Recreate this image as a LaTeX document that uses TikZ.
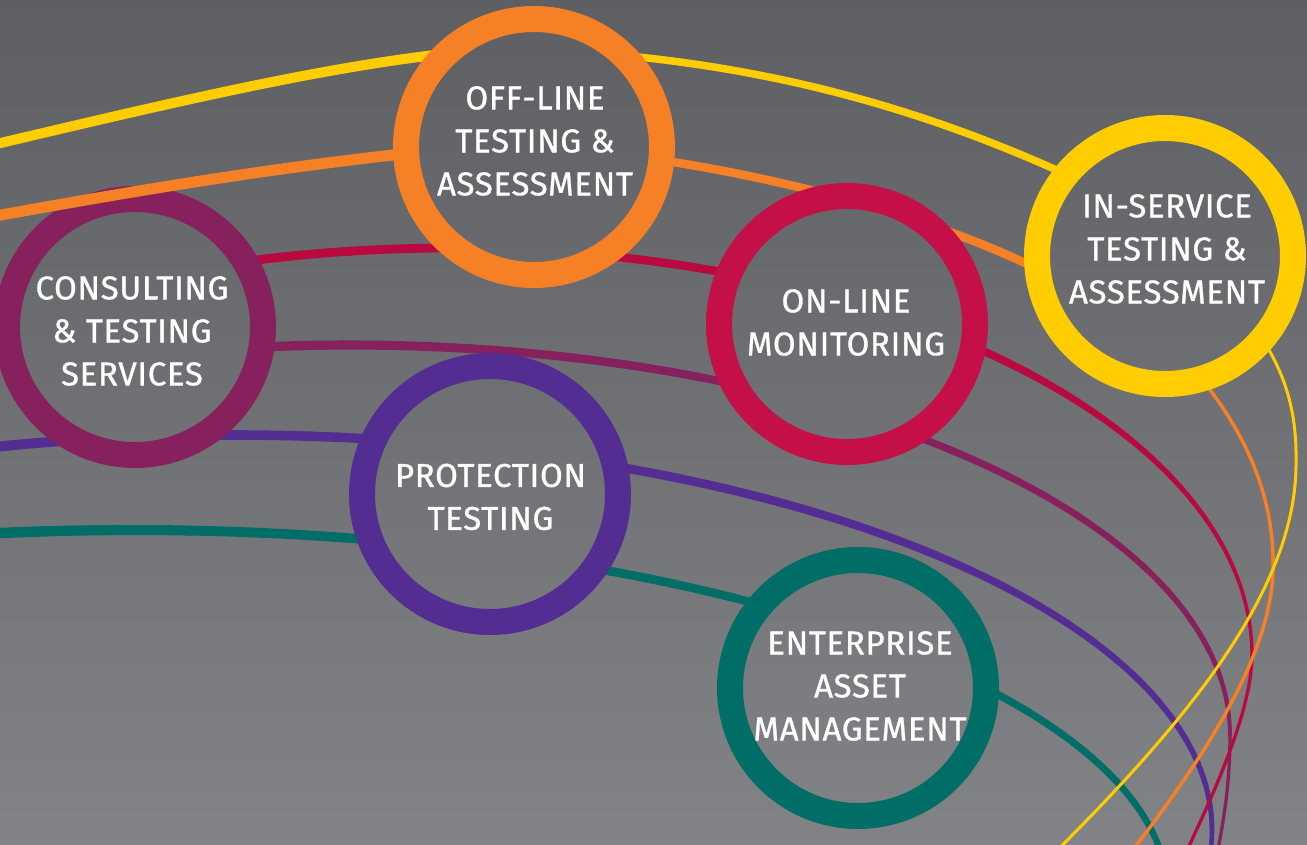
\documentclass[tikz,border=0pt]{standalone}
\usepackage{fontspec}
\setmainfont{Fira Sans}
\newfontfamily\lblfont{Fira Sans}[FakeBold=0.9, LetterSpace=2]
\definecolor{bgtop}{RGB}{94,95,99}
\definecolor{bgbot}{RGB}{130,131,134}
\definecolor{cyel}{RGB}{255,205,0}
\definecolor{corg}{RGB}{245,128,37}
\definecolor{ccrim}{RGB}{196,15,72}
\definecolor{ccrimline}{RGB}{184,10,64}
\definecolor{cmag}{RGB}{134,33,93}
\definecolor{cpur}{RGB}{83,45,145}
\definecolor{cteal}{RGB}{0,110,102}
\begin{document}
\begin{tikzpicture}[x=1pt,y=-1pt]
\tikzset{
  ringline/.style={line width=26pt},
  lbl/.style={text=white, align=center, font=\lblfont\fontsize{33}{43}\selectfont, inner sep=0pt},
  arcline/.style={line cap=round, line join=round}
}
\newcommand{\bgfill}{\shade[top color=bgtop, bottom color=bgbot] (0,0) rectangle (1307,845);}
\newcommand{\myring}[3]{%
  \begin{scope}\clip (#1) circle (116); \bgfill\end{scope}
  \draw[ringline, #2] (#1) circle (128);
  \node[circle, minimum size=282pt, inner sep=0pt] (#3) at (#1) {};
}
% tapered elliptic arc: colour, cx, cy, a, b, theta start (larger), theta end, width start, width end ; exponent \tp
\def\tp{1}
\newcommand{\taper}[9]{%
  \foreach \k in {1,...,24}{%
    \pgfmathsetmacro\ta{#6+(#7-#6)*(\k-1)/24}%
    \pgfmathsetmacro\tb{#6+(#7-#6)*\k/24-0.15}%
    \pgfmathsetmacro\ff{1-(\k-0.5)/24}%
    \pgfmathsetmacro\ww{#9+(#8-#9)*(\ff)^(\tp)}%
    \draw[#1, line width=\ww pt] plot[domain=\tb:\ta, samples=8, smooth] ({#2+#4*cos(\x)},{#3-#5*sin(\x)});
  }}
\useasboundingbox (0,0) rectangle (1307,845);
\bgfill

% ---------- curves ----------
% teal : one ellipse
\def\tp{1}
\taper{cteal}{133}{895}{1035}{365}{99}{2}{10.5}{6}
% purple : one ellipse
\def\tp{1}
\taper{cpur}{233}{830}{979}{395}{105}{66}{10}{9}
\def\tp{0.8}
\taper{cpur}{233}{830}{979}{395}{66}{-9}{9}{3.8}
% magenta : ellipse + bottom
\def\tp{0.6}
\taper{cmag}{350}{735}{880}{390}{100}{0}{9.5}{3.3}
\draw[arcline, cmag, line width=3.3] (1230,735) .. controls (1230,790) and (1222,830) .. (1213,875);
% crimson : ellipse + bottom
\def\tp{1}
\taper{ccrimline}{450}{655}{802}{407}{107}{48}{9}{8}
\def\tp{1.5}
\taper{ccrimline}{450}{655}{802}{407}{48}{0}{8}{3.3}
\draw[arcline, ccrimline, line width=3.3] (1252,655) .. controls (1252,710) and (1214,795) .. (1175,875);
% orange middle and thin parts
\draw[arcline, corg, line width=8.5] (600,152) .. controls (760,170) and (960,220) .. (1080,292);
\draw[arcline, corg, line width=3.5] (1185,360) .. controls (1240,420) and (1274,490) .. (1273,565)
   .. controls (1274,660) and (1190,778) .. (1113,875);
% yellow
\draw[arcline, cyel, line width=10] (-10,145.5) .. controls (200,96) and (400,48) .. (540,48);
\draw[arcline, cyel, line width=7.5] (540,50) .. controls (800,60) and (980,133) .. (1100,190);
\draw[arcline, cyel, line width=3] (1245,315) .. controls (1285,365) and (1297,410) .. (1296,462)
   .. controls (1297,590) and (1186,725) .. (1032,875);

% ---------- circles ----------
\myring{135,327}{cmag}{cons}
% orange left part drawn over the consulting ring
\draw[arcline, corg, line width=11] (-10,217) .. controls (150,188) and (300,163) .. (470,147);
\myring{534,147}{corg}{offl}
\myring{1165,256}{cyel}{insv}
\myring{847,324}{ccrim}{onl}
\myring{490,494}{cpur}{prot}
\myring{858,688}{cteal}{eam}

% ---------- labels ----------
\node[lbl] (toffl) at (535,141) {OFF-LINE\\TESTING \&\\ASSESSMENT};
\node[lbl] (tinsv) at (1167,249) {IN-SERVICE\\TESTING \&\\ASSESSMENT};
\node[lbl] (tonl) at (846,322.5) {ON-LINE\\MONITORING};
\node[lbl] (tcons) at (132,331) {CONSULTING\\\& TESTING\\SERVICES};
\node[lbl] (tprot) at (490.5,497) {PROTECTION\\TESTING};
\node[lbl] (team) at (860,686) {ENTERPRISE\\ASSET\\MANAGEMENT};
\end{tikzpicture}
\end{document}
